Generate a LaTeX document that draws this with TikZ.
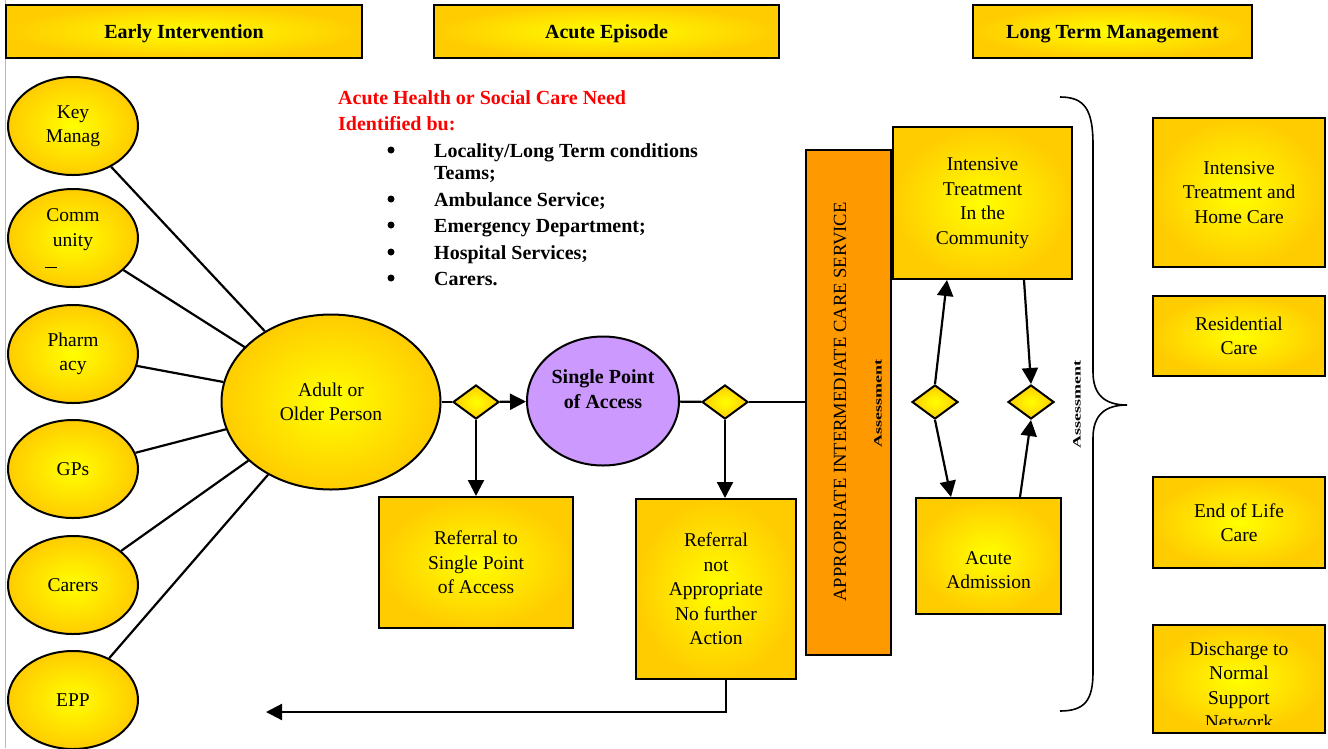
\documentclass[tikz,border=0pt]{standalone}
\usepackage{fontspec}
\setmainfont{Liberation Serif}
\usetikzlibrary{shapes.geometric,arrows.meta,calc}
\definecolor{gold}{RGB}{255,204,0}
\definecolor{yel}{RGB}{255,255,0}
\definecolor{orng}{RGB}{255,153,0}
\definecolor{lilac}{RGB}{204,153,255}
\definecolor{redt}{RGB}{255,0,0}
\newcommand\tnorm{\fontsize{19.5}{24.5}\selectfont}
\newcommand\tbold{\fontsize{20}{25}\selectfont\bfseries}
\begin{document}
\begin{tikzpicture}[x=1pt,y=-1pt,
  glow/.style={shading=radial, inner color=yel, outer color=gold},
  oval/.style={ellipse, draw, line width=2pt, glow, minimum width=130pt, minimum height=98pt, inner sep=0pt, align=center, font=\tnorm},
  box/.style={rectangle, draw, line width=2pt, glow, inner sep=0pt, align=center, font=\tnorm},
  hdr/.style={box, font=\tbold, minimum height=53pt, text depth=-4pt},
  dia/.style={diamond, draw, line width=2pt, glow, minimum width=46pt, minimum height=34pt, inner sep=0pt},
  conn/.style={line width=2.2pt},
  arr/.style={line width=2.2pt, -{Triangle[width=16pt,length=16pt]}},
  bul/.style={anchor=base west, font=\tbold, inner sep=0pt},
  dot/.style={circle, fill=black, inner sep=0pt, minimum size=7pt},
  vtext/.style={rotate=90, inner sep=0pt}
]
\useasboundingbox (0,0) rectangle (1328,748);
\draw[gray!55, line width=1pt] (5,0) -- (5,748);

% headers
\node[hdr, minimum width=356pt] (h1) at (184,31.5) {Early Intervention};
\node[hdr, minimum width=345pt] (h2) at (606.5,31.5) {Acute Episode};
\node[hdr, minimum width=279pt] (h3) at (1112.5,31.5) {Long Term Management};

% left ovals
\node[oval] (km) at (73,126) {Key\\Manag};
\node[oval] (com) at (73,238) {Comm\\unity\\[-4pt]\phantom{x}};
\draw[line width=1pt] (45,267) -- (57,267);
\node[oval] (ph) at (73,354) {Pharm\\acy};
\node[oval] (gp) at (73,469) {GPs};
\node[oval] (car) at (73,585) {Carers};
\node[oval] (epp) at (73,700) {EPP};

% central person
\node[oval, minimum width=219pt, minimum height=175pt] (adult) at (331,402) {Adult or\\Older Person};
\foreach \n in {km,com,ph,gp,car,epp} \draw[conn] (\n) -- (adult);

% text block
\node[anchor=base west, font=\tbold, text=redt, inner sep=0pt] (t0) at (338,104) {Acute Health or Social Care Need};
\node[anchor=base west, font=\tbold, text=redt, inner sep=0pt] (t1) at (338,130) {Identified bu:};
\foreach \y/\nm in {157/b1,206/b2,232/b3,259/b4,285/b5}
  \node[dot] (\nm) at (391,\y-7) {};
\node[bul] (l1) at (434,157) {Locality/Long Term conditions};
\node[bul] (l2) at (434,179) {Teams;};
\node[bul] (l3) at (434,206) {Ambulance Service;};
\node[bul] (l4) at (434,232) {Emergency Department;};
\node[bul] (l5) at (434,259) {Hospital Services;};
\node[bul] (l6) at (434,285) {Carers.};

% middle flow
\node[dia] (d1) at (476,402) {};
\node[ellipse, draw, line width=2pt, fill=lilac, minimum width=152pt, minimum height=129pt, inner sep=0pt] (spa) at (603,401) {};
\node[font=\tbold, align=center, inner sep=0pt] (spat) at (603,389) {Single Point\\of Access};
\node[dia] (d2) at (725,402) {};
\node[box, minimum width=194pt, minimum height=131pt] (r1) at (476,562.5) {Referral to\\Single Point\\of Access};
\node[box, minimum width=160pt, minimum height=180pt] (r2) at (716,589) {Referral\\not\\Appropriate\\No further\\Action};

\draw[conn] (adult) -- (d1);
\draw[arr] (d1) -- (spa);
\draw[arr] (d1.south) -- (r1.north -| d1.south);
\draw[conn] (spa) -- (d2);
\draw[arr] (d2.south) -- (r2.north -| d2.south);
\coordinate (ret) at (266,712);
\draw[arr] ($(r2.south)+(10,0)$) |- (ret);

% intermediate care service
\node[draw, line width=2pt, fill=orng, minimum width=85pt, minimum height=505pt, inner sep=0pt] (isc) at (848.5,402.5) {};
\node[vtext, font=\fontsize{18.6}{20}\selectfont] (isct) at (840,402) {APPROPRIATE INTERMEDIATE CARE SERVICE};
\node[vtext] (as1) at (878,403) {\scalebox{1}[0.62]{\fontsize{18}{18}\selectfont\bfseries Assessment}};
\draw[conn] (d2.east) -- (isc.west |- d2.east);

% community / admission
\node[box, minimum width=179pt, minimum height=152pt] (itc) at (982.5,203) {Intensive\\Treatment\\In the\\Community};
\node[box, minimum width=145pt, minimum height=116pt] (aa) at (988.5,556) {};
\node[font=\tnorm, align=center, inner sep=0pt] (aat) at (988.5,570) {Acute\\Admission};
\node[dia] (d3) at (935,402) {};
\node[dia] (d4) at (1031,402) {};
\draw[arr] (d3.north) -- ($(itc.south west)+(55,0)$);
\draw[arr] (d3.south) -- ($(aa.north west)+(36,0)$);
\draw[arr] ($(itc.south west)+(132,0)$) -- (d4.north);
\draw[arr] ($(aa.north west)+(105,0)$) -- (d4.south);

% brace
\draw[line width=1.6pt] (1060,97) .. controls (1085,97) and (1093,110) .. (1093,145) -- (1093,372)
  .. controls (1093,395) and (1105,405) .. (1127,405)
  .. controls (1105,405) and (1093,415) .. (1093,438) -- (1093,672)
  .. controls (1093,700) and (1085,711) .. (1060,711);
\node[vtext] (as2) at (1077,404) {\scalebox{1}[0.62]{\fontsize{18}{18}\selectfont\bfseries Assessment}};

% long term outcomes
\node[box, minimum width=172pt, minimum height=149pt] (o1) at (1239,192.5) {Intensive\\Treatment and\\Home Care};
\node[box, minimum width=172pt, minimum height=80pt] (o2) at (1239,336) {Residential\\Care};
\node[box, minimum width=172pt, minimum height=91pt] (o3) at (1239,522.5) {End of Life\\Care};
\node[box, minimum width=172pt, minimum height=108pt] (o4) at (1239,679) {};
\begin{scope}
  \clip (1155,627) rectangle (1323,724);
  \node[font=\tnorm, align=center, inner sep=0pt] (o4t) at (1239,685.5) {Discharge to\\Normal\\Support\\Network};
\end{scope}
\end{tikzpicture}
\end{document}
